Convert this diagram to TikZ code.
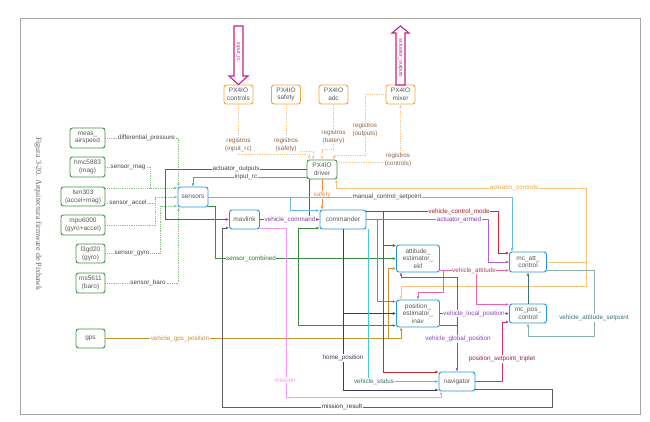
\documentclass[tikz,border=0pt]{standalone}
\usepackage{fontspec}
\setmainfont{Liberation Sans}
\newfontfamily\capfont{Liberation Serif}
\usetikzlibrary{arrows.meta}
\definecolor{boxgreen}{RGB}{70,145,75}
\definecolor{boxorange}{RGB}{240,165,60}
\definecolor{boxblue}{RGB}{40,150,215}
\definecolor{sgreen}{RGB}{140,195,140}
\definecolor{rorange}{RGB}{247,198,140}
\definecolor{rtext}{RGB}{140,100,70}
\definecolor{cmag}{RGB}{195,35,135}
\definecolor{ccyan}{RGB}{60,170,190}
\definecolor{lblue}{RGB}{100,185,230}
\definecolor{cviolet}{RGB}{130,60,170}
\definecolor{cred}{RGB}{200,40,50}
\definecolor{cpurple}{RGB}{175,95,225}
\definecolor{dgreen}{RGB}{60,140,70}
\definecolor{cgold}{RGB}{205,145,50}
\definecolor{cpink}{RGB}{235,100,170}
\definecolor{dviolet}{RGB}{140,70,190}
\definecolor{crimson}{RGB}{210,50,110}
\definecolor{cteal}{RGB}{60,115,115}
\definecolor{lteal}{RGB}{140,175,175}
\definecolor{lpink}{RGB}{245,150,240}
\definecolor{cgray}{RGB}{95,95,95}
\definecolor{slate}{RGB}{60,60,85}
\definecolor{cstatus}{RGB}{70,200,215}
\definecolor{aorange}{RGB}{248,195,125}
\definecolor{sorange}{RGB}{245,140,60}
\definecolor{ltext}{RGB}{70,70,80}
\begin{document}
\begin{tikzpicture}[x=1pt,y=-1pt,
  every node/.style={inner sep=0pt},
  box/.style={draw,rounded corners=2.5pt,line width=0.9pt,fill=white,align=center,
    font=\fontsize{6.5}{7.8}\selectfont,text=black!65},
  gbox/.style={box,draw=boxgreen},
  obox/.style={box,draw=boxorange,minimum width=29pt,minimum height=19pt},
  bbox/.style={box,draw=boxblue},
  lbl/.style={fill=white,inner sep=0.6pt,font=\fontsize{6.3}{7}\selectfont,text=ltext},
  rlbl/.style={lbl,align=center,text=rtext,font=\fontsize{6.3}{7.6}\selectfont},
  arr/.style={-{Latex[length=3.2pt,width=2.8pt]}},
  wire/.style={line width=0.55pt},
  sline/.style={wire,draw=sgreen,dash pattern=on 1pt off 0.8pt},
  rline/.style={wire,draw=rorange,dash pattern=on 1pt off 0.8pt},
  bigarr/.style={draw=cmag,line width=1.1pt,fill=white}]
\useasboundingbox (0,0) rectangle (650,422);
\draw[gray!70,line width=1pt] (20,19) rectangle (640,414);
\node[rotate=-90,font=\capfont\fontsize{8}{9}\selectfont,text=black!60] (caption) at (38,214)
  {Figura 3-20. Arquitectura firmware de Pixhawk};

% sensor drivers
\node[gbox,minimum width=35pt,minimum height=20pt] (airspeed) at (87.5,138) {meas\_\\airspeed};
\node[gbox,minimum width=35pt,minimum height=20pt] (hmc) at (87.5,167) {hmc5883\\(mag)};
\node[gbox,minimum width=44pt,minimum height=19pt] (lsm) at (83,196.5) {lsm303\\(accel+mag)};
\node[gbox,minimum width=44pt,minimum height=20pt] (mpu) at (83,225) {mpu6000\\(gyro+accel)};
\node[gbox,minimum width=29pt,minimum height=19pt] (l3g) at (90.5,253.5) {l3gd20\\(gyro)};
\node[gbox,minimum width=29pt,minimum height=20pt] (ms) at (90.5,283) {ms5611\\(baro)};
\node[gbox,minimum width=29pt,minimum height=19pt] (gps) at (90.5,338.5) {gps};

% PX4IO
\node[obox] (ioctrl) at (238.5,94.5) {PX4IO\\controls};
\node[obox] (iosafe) at (286,94.5) {PX4IO\\safety};
\node[obox] (ioadc) at (333.5,94.5) {PX4IO\\adc};
\node[obox] (iomixer) at (400.5,94.5) {PX4IO\\mixer};
\node[gbox,minimum width=30pt,minimum height=19pt] (driver) at (322,169.5) {PX4IO\\driver};

% modules
\node[bbox,minimum width=30pt,minimum height=20pt] (sensors) at (193,197) {sensors};
\node[bbox,minimum width=30pt,minimum height=19pt] (mavlink) at (244.5,219.5) {mavlink};
\node[bbox,minimum width=46pt,minimum height=19pt] (commander) at (343,219.5) {commander};
\node[bbox,minimum width=43pt,minimum height=27pt] (attest) at (418,258.5) {attitude\_\\estimator\_\\ekf};
\node[bbox,minimum width=43pt,minimum height=27pt] (posest) at (418,313.5) {position\_\\estimator\_\\inav};
\node[bbox,minimum width=37pt,minimum height=20pt] (mcatt) at (528,262) {mc\_att\_\\control};
\node[bbox,minimum width=37pt,minimum height=19pt] (mcpos) at (528,313.5) {mc\_pos\_\\control};
\node[bbox,minimum width=36pt,minimum height=19pt] (nav) at (457,381.5) {navigator};

% rc in / pwm out
\draw[bigarr] (234,26) -- (243,26) -- (243,76) -- (248,76) -- (ioctrl.north) -- (229,76) -- (234,76) -- cycle;
\node[rotate=-90,font=\fontsize{5.2}{5}\selectfont,text=cmag] (rcin) at (238.5,52) {input\_rc};
\draw[bigarr] (396,85) -- (405,85) -- (405,33) -- (409,33) -- (400.5,26) -- (392,33) -- (396,33) -- cycle;
\node[rotate=-90,font=\fontsize{5.2}{5}\selectfont,text=cmag] (pwmout) at (400.5,58) {actuator\_outputs};

% sensor topics
\draw[sline,arr] (airspeed.east) -| ([xshift=1pt]sensors.north west);
\draw[sline,arr] (hmc.east) -| (150,188) -- ([yshift=9pt]sensors.west);
\draw[sline] ([yshift=8.5pt]lsm.east) -- (150,188);
\draw[sline,arr] ([yshift=-6.5pt]lsm.east) -| (155,197) -- (sensors.west);
\draw[sline] (mpu.east) -| (155,203);
\draw[sline,arr] (l3g.east) -| (160,206) -- ([yshift=-9pt]sensors.west);
\draw[sline,arr] (ms.east) -| ([xshift=1pt]sensors.south west);
\node[lbl] (ldiff) at (146.5,138) {differential\_pressure};
\node[lbl] (lmag) at (128,167) {sensor\_mag};
\node[lbl] (laccel) at (128,203) {sensor\_accel};
\node[lbl] (lgyro) at (132,253.5) {sensor\_gyro};
\node[lbl] (lbaro) at (148,283) {sensor\_baro};

% registros
\draw[rline,arr] (ioctrl.south) |- ([xshift=-13pt,yshift=5pt]driver.north) -- ([xshift=-13pt]driver.north);
\draw[rline,arr] (iosafe.south) |- ([xshift=-9pt,yshift=8pt]driver.north) -- ([xshift=-9pt]driver.north);
\draw[rline,arr] (ioadc.south) |- ([yshift=10pt]driver.north) -- (driver.north);
\draw[rline,arr] (iomixer.west) -| (365,155) -| ([xshift=12pt]driver.north);
\draw[rline,arr] ([yshift=7.5pt]driver.east) -| (iomixer.south);
\node[rlbl] (rgin) at (238.5,145) {registros\\(input\_rc)};
\node[rlbl] (rgsafe) at (286,145) {registros\\(safety)};
\node[rlbl] (rgbat) at (333.5,137) {registros\\(batery)};
\node[rlbl] (rgout) at (365,130) {registros\\(outputs)};
\node[rlbl] (rgctrl) at (398,160) {registros\\(controls)};

% driver links
\draw[wire,arr,draw=cmag] (driver.west) -| (165,219.5) -- (mavlink.west);
\draw[wire,arr,draw=ccyan] ([yshift=-7.5pt]driver.west) -| (sensors.north);
\draw[wire,arr,draw=sorange] (driver.south) -- (driver.south |- commander.north);
\draw[wire,draw=cviolet] ([xshift=-13pt]driver.south) -- ([xshift=-13pt]driver.south |- commander.west);
\draw[wire,arr,draw=aorange] (mcatt.east) -| (586,188) -| ([xshift=-1pt]driver.south east);
\draw[wire,arr,draw=aorange] (586,262) |- (401,286) -- ([xshift=-17pt]posest.north);
\node[lbl] (lout) at (236,169.5) {actuator\_outputs};
\node[lbl] (linrc) at (246,177) {input\_rc};
\node[lbl,text=sorange] (lsafety) at (322,195) {safety};
\node[lbl,text=boxorange] (lctrl) at (514,188) {actuator\_controls};

% sensors, mavlink, commander
\draw[wire,arr,draw=lblue] (sensors.east) -| ([xshift=-16pt]mcatt.north);
\draw[wire,arr,draw=lblue] (290,197) |- ([yshift=9pt]commander.west);
\draw[wire,arr,draw=cviolet] (mavlink.east) -- (commander.west);
\draw[wire,arr,draw=dgreen] ([yshift=-9pt]sensors.east) -| (215,258.5) -- (attest.west);
\draw[wire,arr,draw=dgreen] (298,258.5) |- ([yshift=-8.5pt]commander.west);
\draw[wire,arr,draw=dgreen] (298,258.5) |- ([yshift=-12pt]posest.west);
\draw[wire,arr,draw=cgold] (gps.east) -| ([xshift=-17pt]posest.south);
\draw[wire,arr,draw=cgold] (388,338.5) |- ([yshift=-10pt]attest.west);
\node[lbl] (lmanual) at (387,197) {manual\_control\_setpoint};
\node[lbl,text=cviolet] (lcmd) at (290,219.5) {vehicle\_command};
\node[lbl,text=dgreen!80!black] (lcomb) at (251,258.5) {sensor\_combined};
\node[lbl,text=cgold] (lgps) at (180,338.5) {vehicle\_gps\_position};

% commander outputs
\draw[wire,arr,draw=cred] ([yshift=8pt]commander.east) -| (498,253) -- ([yshift=9pt]mcatt.west);
\draw[wire,arr,draw=cred] (383,211.5) |- ([yshift=9.5pt]nav.west);
\draw[wire,arr,draw=cred] (383,245.5) -- ([yshift=13pt]attest.west);
\draw[wire,arr,draw=cpurple] (commander.east) -| (488,262) -- (mcatt.west);
\draw[wire,arr,draw=cpurple] (377,219.5) |- ([yshift=12pt]posest.west);
\draw[wire,arr,draw=slate] (commander.south) |- ([yshift=-8.5pt]nav.west);
\draw[wire,arr,draw=slate] (343,313.5) -- (posest.west);
\draw[wire,arr,draw=cstatus] ([xshift=2pt]commander.south east) |- (nav.west);
\node[lbl,text=cred!80!black] (lmode) at (459,211.5) {vehicle\_control\_mode};
\node[lbl,text=cviolet] (larmed) at (459,219.5) {actuator\_armed};
\node[lbl,text=slate] (lhome) at (343,358) {home\_position};
\node[lbl,text=cteal] (lstatus) at (374,381.5) {vehicle\_status};

% estimators and control
\draw[wire,arr,draw=cpink] ([yshift=-12pt]attest.east) -- ([yshift=-8.5pt]mcatt.west);
\draw[wire,arr,draw=cpink] (476,270.5) |- ([yshift=9pt]mcpos.west);
\draw[wire,arr,draw=cpink] (443,270.5) -- (443,292) -| (posest.north);
\draw[wire,arr,draw=dviolet] (posest.east) -- (mcpos.west);
\draw[wire,arr,draw=dviolet] ([yshift=-12pt]posest.east) -| (nav.north);
\draw[wire,arr,draw=dviolet] (457,325.5) |- (401,277) -- ([xshift=-17pt]attest.south);
\draw[wire,arr,draw=crimson] (nav.east) -| (502,322) -- ([yshift=-8.5pt]mcpos.west);
\draw[wire,arr,draw=cteal] (mcpos.north) -- (mcatt.south);
\draw[wire,arr,draw=lteal] ([yshift=-8.5pt]mcatt.east) -| (594,336) -| (mcpos.south);
\node[lbl,text=cpink!70!black] (latt) at (474,270.5) {vehicle\_attitude};
\node[lbl,text=dviolet] (lloc) at (474,313.5) {vehicle\_local\_position};
\node[lbl,text=dviolet] (lglob) at (458,339) {vehicle\_global\_position};
\node[lbl,text=crimson!70!black] (ltrip) at (502,359) {position\_setpoint\_triplet};
\node[lbl,text=cteal] (lattsp) at (594,318) {vehicle\_attitude\_setpoint};

% mission
\draw[wire,arr,draw=lpink] ([yshift=-8.5pt]mavlink.east) -| (286,397) -| ([xshift=-16pt]nav.south);
\draw[wire,arr,draw=cgray] ([yshift=-8pt]nav.east) -| (552,407) -| (222,228) -- ([yshift=-8.5pt]mavlink.west);
\node[lbl,text=lpink] (lmission) at (285,380) {mission};
\node[lbl,text=black!80] (lresult) at (342,407) {mission\_result};
\end{tikzpicture}
\end{document}
